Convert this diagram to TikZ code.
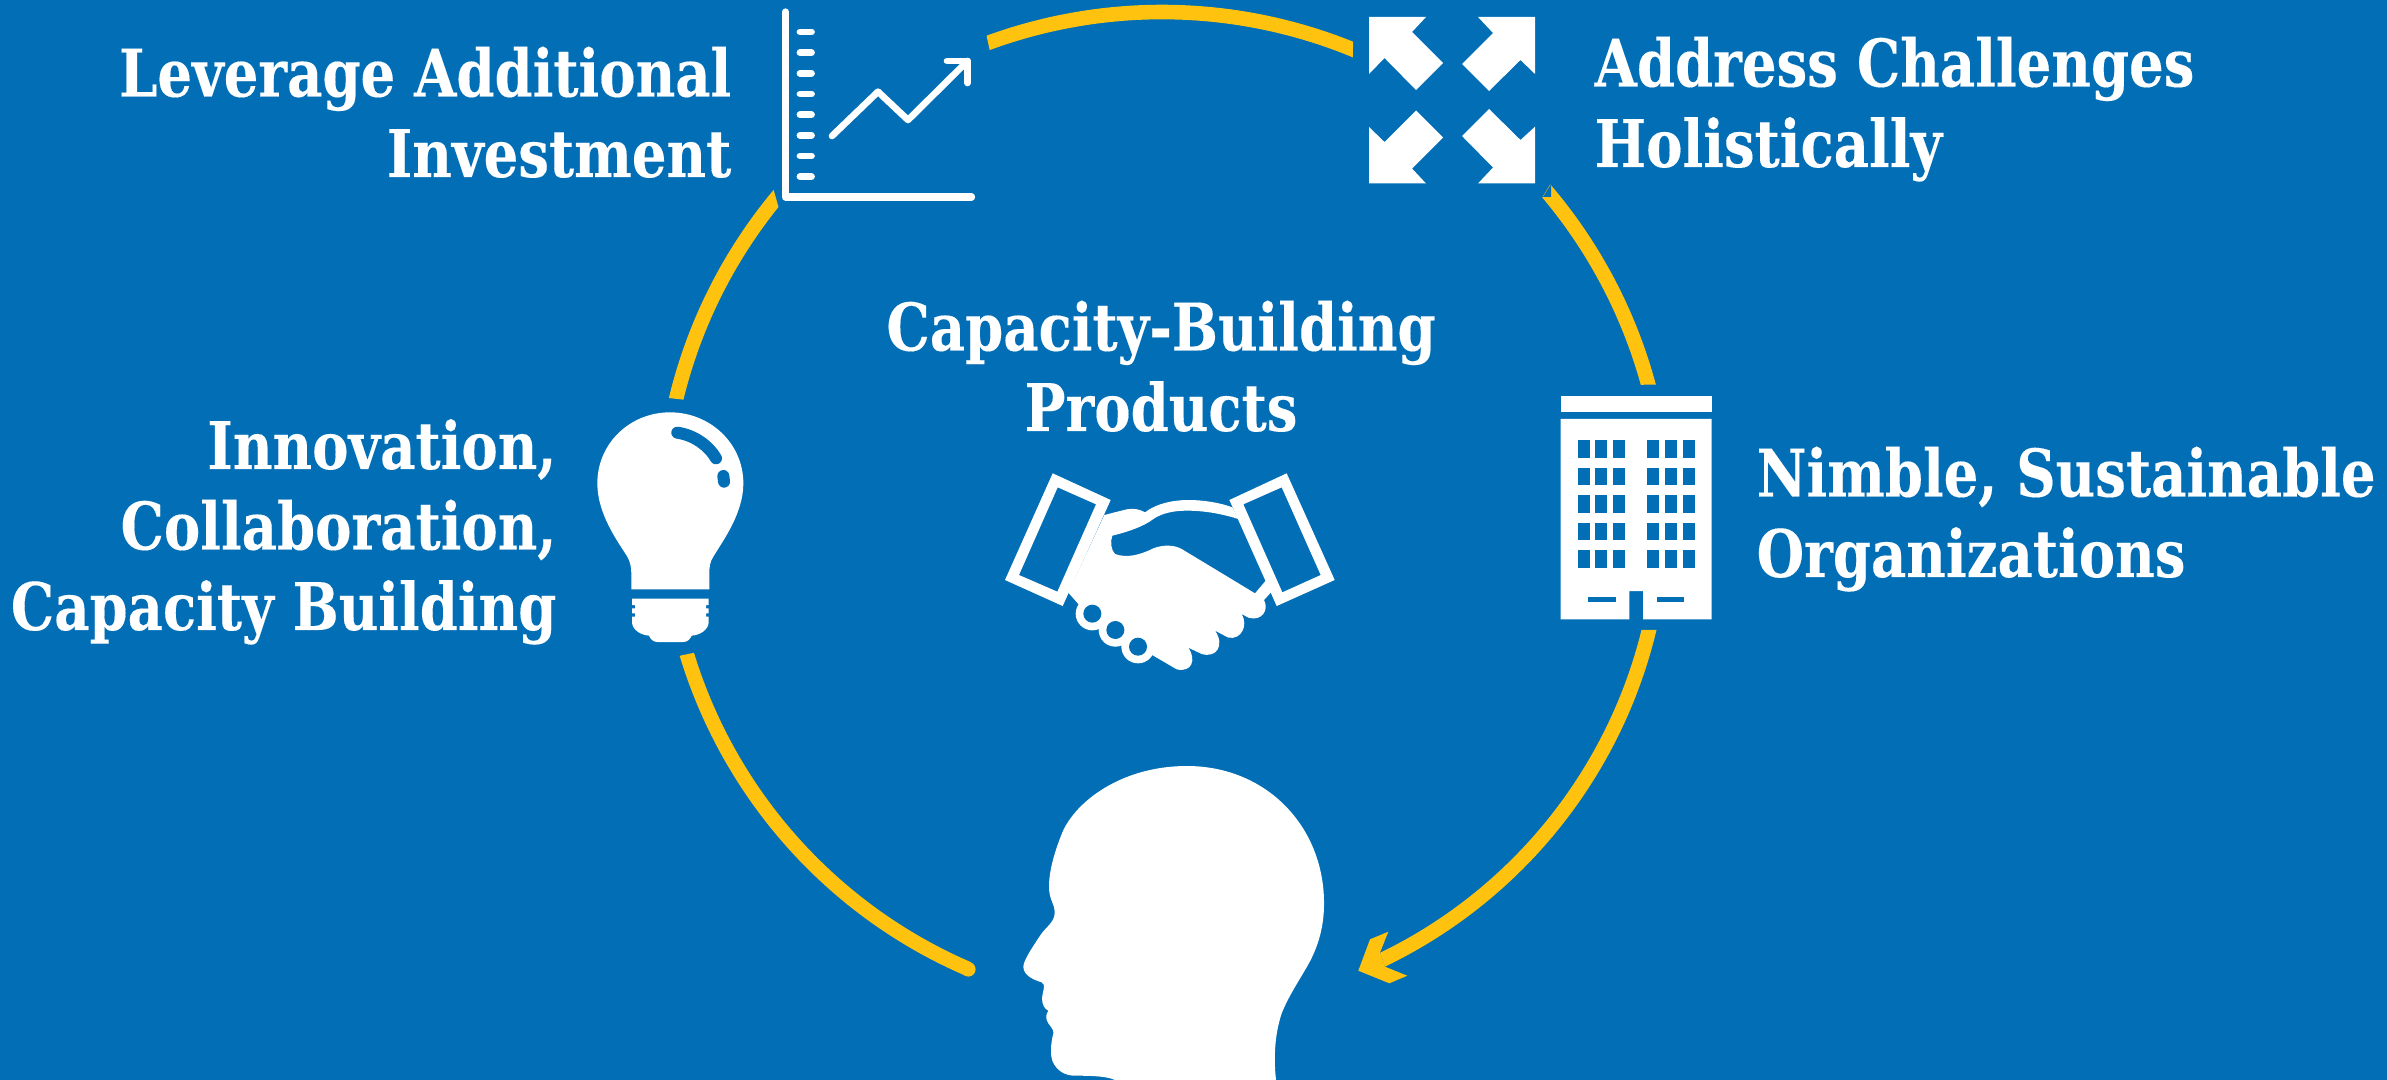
\documentclass[tikz,border=0pt]{standalone}
\usepackage{fontspec}
\newfontfamily\labfont{DejaVu Serif}[FakeStretch=0.83,FakeBold=0.2]
\definecolor{bgblue}{RGB}{1,110,182}
\definecolor{ringcolor}{RGB}{255,194,14}
\newcommand{\bandarc}[8]{\fill[ringcolor] ({#1+#3*cos(#5)},{#2+#3*sin(#5)}) arc[start angle=#5,end angle=#6,radius=#3] -- ({#1+#4*cos(#7)},{#2+#4*sin(#7)}) arc[start angle=#7,end angle=#8,radius=#4] -- cycle;}
\tikzset{
  lab/.style={text=white,inner sep=0pt,font=\labfont\bfseries\fontsize{19.7pt}{24.15pt}\selectfont},
  zoomunits/.style={x=0.1pt,y=-0.1pt},
  axisline/.style={draw=white,line width=2.2pt,line cap=round,line join=round},
  tickline/.style={draw=white,line width=2.05pt,line cap=round},
  trendline/.style={draw=white,line width=2pt,line cap=round,line join=round},
}
\begin{document}
\begin{tikzpicture}[x=0.3pt,y=-0.3pt]
\useasboundingbox (0,0) rectangle (2387,1080);
\fill[bgblue] (0,0) rectangle (2387,1080);
% ring
\bandarc{1162}{517}{512.3}{497.7}{249.97}{291.9}{292.55}{249.74}
\bandarc{1162}{517}{511.3}{496.7}{-40.6}{-15.0}{-15.44}{-40.03}
\fill[bgblue] (1551,184) -- (1551,197) -- (1543,197) -- cycle;
\bandarc{1167}{513}{503.3}{488.7}{13.43}{64.34}{64.15}{13.84}
\fill[ringcolor] (1358.3,970.7) -- (1370,939.3) -- (1388.3,931.7) -- (1380,952.7) -- (1385,966.7) -- (1407.3,975.7) -- (1389.3,983.3) -- cycle;
\bandarc{1167}{508}{509.3}{494.7}{163.13}{113.3}{113.3}{162.98}
\fill[ringcolor] (968.3,969.3) circle[radius=7.3];
\bandarc{1164}{517}{509.3}{494.7}{219.96}{193.51}{193.72}{218.8}
% chart icon
\draw[axisline] (785.5,12) -- (785.5,197) -- (971.5,197);
\foreach \yy in {32,52.7,73.3,94,114.7,135.3,156,176.7}
  \draw[tickline] (800,\yy) -- (811.5,\yy);
\draw[trendline] (832,136) -- (878,91.7) -- (908,120) -- (967.6,61);
\draw[trendline] (947,61) -- (967.6,61) -- (967.6,83);
% expand arrows icon
\fill[white] (1369,17) -- (1426,17) -- (1412,32) -- (1443,63) -- (1416,90) -- (1384.5,58) -- (1369,74) -- cycle;
\fill[white] (1535,17) -- (1478,17) -- (1493,33) -- (1462,64) -- (1489,91) -- (1520.5,60) -- (1535,74) -- cycle;
\fill[white] (1369,183.5) -- (1426,183.5) -- (1412,168.5) -- (1443,137.5) -- (1416,110.5) -- (1384.5,142) -- (1369,127) -- cycle;
\fill[white] (1535,183.5) -- (1478,183.5) -- (1493,167.5) -- (1462,136) -- (1489,109) -- (1520.5,140) -- (1535,126.7) -- cycle;
% bulb
\begin{scope}[shift={(580,380)},zoomunits]
\fill[white] (270,97) .. controls (390,97) and (490,190) .. (490,310) .. controls (490,400) and (430,480) .. (400,530) .. controls (390,545) and (388,560) .. (388,580) -- (388,628) -- (154,628) -- (154,580) .. controls (154,560) and (150,545) .. (142,530) .. controls (110,480) and (52,400) .. (52,310) .. controls (52,190) and (150,97) .. (270,97) -- cycle;
\draw[bgblue,line width=3.6pt,line cap=round] (292,158) .. controls (340,165) and (385,195) .. (408,235);
\draw[bgblue,line width=3.6pt,line cap=round] (430,288) -- (432,305);
\fill[white] (156,656) -- (386,656) -- (386,675) -- (378,675) -- (378,685) -- (386,685) -- (386,700) -- (378,700) -- (378,710) -- (386,710) -- (386,728) .. controls (384,750) and (360,765) .. (335,767) .. controls (330,778) and (322,786) .. (310,786) -- (232,786) .. controls (220,786) and (212,778) .. (207,767) .. controls (182,765) and (158,750) .. (156,728) -- (156,710) -- (165,710) -- (165,700) -- (156,700) -- (156,685) -- (165,685) -- (165,675) -- (156,675) -- cycle;
\end{scope}
% handshake
\begin{scope}[shift={(980,450)},zoomunits]
\fill[white,even odd rule] (218,70) -- (392,150) -- (248,468) -- (75,390) -- cycle (233,112) -- (348,163) -- (232,425) -- (117,375) -- cycle;
\fill[white,even odd rule] (920,70) -- (748,150) -- (890,468) -- (1064,390) -- cycle (905,112) -- (790,163) -- (907,427) -- (1022,375) -- cycle;
\fill[white] (373,195) -- (440,178) .. controls (460,174) and (480,178) .. (495,187) .. controls (530,160) and (580,150) .. (625,150) .. controls (670,150) and (720,158) .. (757,172) -- (775,207) .. controls (720,190) and (670,182) .. (620,182) .. controls (580,182) and (545,190) .. (520,207) .. controls (490,230) and (445,245) .. (397,257) .. controls (390,275) and (393,300) .. (405,312) .. controls (440,325) and (480,315) .. (520,295) .. controls (550,283) and (585,285) .. (605,297) -- (825,430) -- (857,392) -- (873,427) -- (852,450) .. controls (868,480) and (845,515) .. (805,503) -- (785,492) .. controls (805,525) and (785,570) .. (745,563) -- (705,542) .. controls (735,585) and (710,625) .. (665,612) -- (625,593) .. controls (650,630) and (635,668) .. (590,658) -- (520,617) -- (474,590) -- (406,540) -- (337,491) -- (295,462) -- (265,428) -- cycle;
\foreach \cx/\cy in {337/491,406/540,474/590}{
  \fill[white] (\cx,\cy) circle[radius=50];
  \fill[bgblue] (\cx,\cy) circle[radius=27];
}
\end{scope}
% building
\begin{scope}[shift={(1540,380)},zoomunits]
\fill[white] (62,49) rectangle (515,97);
\fill[white] (62,117) -- (515,117) -- (515,718) -- (309,718) -- (309,633) -- (268,633) -- (268,718) -- (62,718) -- cycle;
\foreach \xa/\xb in {114/149,166/202,219/255,322/357,375/411,428/464}
  \foreach \ya/\yb in {181/233,264/316,346/398,429/481,511/563}
    \fill[bgblue] (\xa,\ya) rectangle (\xb,\yb);
\fill[bgblue] (144,652) rectangle (227,667);
\fill[bgblue] (350,652) rectangle (433,667);
\end{scope}
% head
\begin{scope}[shift={(980,740)},zoomunits]
\fill[white] (888,1020) .. controls (880,950) and (885,880) .. (905,820) .. controls (925,770) and (955,725) .. (975,690) .. controls (1015,625) and (1032,560) .. (1032,490) .. controls (1032,260) and (860,78) .. (620,78) .. controls (440,78) and (300,170) .. (250,270) .. controls (225,330) and (207,390) .. (207,440) .. controls (207,480) and (224,490) .. (224,518) .. controls (224,545) and (200,560) .. (185,580) .. controls (165,610) and (130,660) .. (130,680) .. controls (130,710) and (170,722) .. (185,727) .. controls (200,732) and (186,760) .. (186,775) .. controls (186,795) and (195,808) .. (205,812) .. controls (195,825) and (198,840) .. (205,850) .. controls (212,860) and (222,870) .. (220,880) .. controls (212,910) and (210,945) .. (218,965) .. controls (232,995) and (258,1007) .. (285,1007) .. controls (330,1007) and (380,1008) .. (405,1020) -- cycle;
\end{scope}
% labels
\node[lab,align=right,anchor=base east] (leverage) at (732,177) {Leverage Additional\\Investment};
\node[lab,align=left,anchor=base west] (address) at (1594,167) {Address Challenges\\Holistically};
\node[lab,align=center,anchor=base] (capacity) at (1161,431) {Capacity-Building\\Products};
\node[lab,align=right,anchor=base east] (innovation) at (557,630) {Innovation,\\Collaboration,\\Capacity Building};
\node[lab,align=left,anchor=base west] (nimble) at (1756,577) {Nimble, Sustainable\\Organizations};
\end{tikzpicture}
\end{document}
